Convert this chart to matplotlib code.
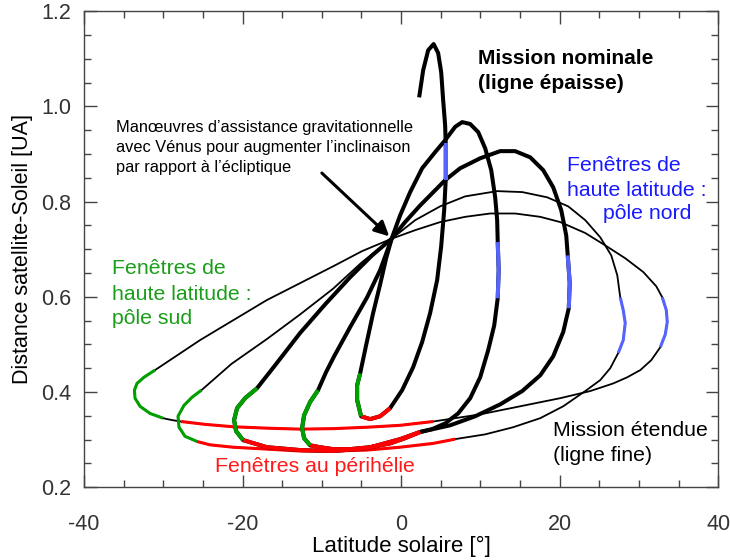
import matplotlib
matplotlib.use("Agg")
import matplotlib.pyplot as plt
from matplotlib.ticker import MultipleLocator

plt.rcParams['font.family'] = ['Liberation Sans', 'DejaVu Sans']
plt.rcParams['axes.unicode_minus'] = False

# Venus fly-by point (solar latitude [deg], distance [AU])
venus = (-1.2, 0.722)

# Successive orbits: solar latitude [deg] and distance to the Sun [AU]
orb1_lat = [2.27, 2.78, 3.41, 4.10, 4.67, 5.05, 5.30, 5.55, 5.62, 5.62, 5.62, 5.43, 5.05, 4.54,
            3.66, 2.65, 1.51, 0.13, -1.39, -2.65, -3.91, -5.05, -5.55, -5.55, -5.17, -4.42,
            -3.53, -2.65, -1.89, venus[0]]
orb1_r = [1.019, 1.076, 1.118, 1.131, 1.112, 1.072, 1.013, 0.960, 0.923, 0.883, 0.845, 0.782,
          0.706, 0.635, 0.566, 0.505, 0.452, 0.404, 0.366, 0.349, 0.343, 0.349, 0.383, 0.414,
          0.439, 0.498, 0.566, 0.626, 0.681, venus[1]]
orb1_win = {'nord': (8, 10), 'perihelie': (18, 21), 'sud': (21, 24)}

orb2_lat = [venus[0], -0.13, 1.14, 2.65, 4.29, 5.55, 6.81, 7.70, 8.71, 9.72, 10.60, 11.36,
            11.86, 12.11, 12.18, 12.30, 12.18, 11.74, 10.98, 9.97, 8.71, 7.19, 5.55, 3.91, 2.40,
            0.50, -1.39, -3.91, -6.44, -8.58, -10.22, -11.48, -12.24, -12.49, -12.24, -11.48,
            -10.47, -9.46, -8.45, -6.44, -4.29, -2.65, venus[0]]
orb2_r = [venus[1], 0.771, 0.820, 0.870, 0.904, 0.929, 0.957, 0.967, 0.963, 0.946, 0.912, 0.866,
          0.809, 0.761, 0.715, 0.656, 0.597, 0.540, 0.488, 0.431, 0.387, 0.355, 0.334, 0.322,
          0.316, 0.303, 0.292, 0.284, 0.280, 0.280, 0.284, 0.288, 0.303, 0.324, 0.351, 0.379,
          0.404, 0.442, 0.475, 0.536, 0.599, 0.656, venus[1]]
orb2_win = {'nord': (14, 16), 'perihelie': (24, 31), 'sud': (31, 36)}

orb3_lat = [venus[0], 0.50, 2.40, 5.55, 7.44, 9.97, 12.49, 14.38, 16.28, 17.92, 19.18, 20.19,
            20.82, 21.01, 21.26, 21.14, 20.44, 19.18, 17.54, 15.27, 12.49, 9.34, 6.18, 2.40,
            -0.13, -4.29, -8.58, -12.74, -16.91, -19.94, -20.82, -21.07, -20.69, -19.68, -18.17,
            -15.90, -12.74, -9.59, -6.44, -3.66, venus[0]]
orb3_r = [venus[1], 0.757, 0.792, 0.845, 0.870, 0.891, 0.906, 0.906, 0.893, 0.866, 0.830, 0.782,
          0.729, 0.687, 0.629, 0.576, 0.526, 0.475, 0.435, 0.402, 0.374, 0.349, 0.330, 0.316,
          0.301, 0.282, 0.276, 0.278, 0.284, 0.299, 0.318, 0.341, 0.366, 0.387, 0.408, 0.456,
          0.524, 0.584, 0.641, 0.687, venus[1]]
orb3_win = {'nord': (13, 15), 'perihelie': (23, 29), 'sud': (29, 34)}

orb4_lat = [venus[0], 1.77, 4.92, 8.08, 12.11, 15.27, 18.42, 21.07, 23.22, 25.11, 26.50, 27.26,
            27.63, 28.01, 28.26, 28.01, 27.38, 26.37, 25.11, 23.22, 20.44, 17.54, 14.13, 10.60,
            6.81, 4.04, -0.13, -4.29, -8.58, -12.74, -16.91, -21.20, -24.10, -25.74, -27.26,
            -28.01, -28.14, -27.38, -26.37, -25.17, -21.40, -16.95, -12.74, -8.58, -4.92,
            venus[0]]
orb4_r = [venus[1], 0.761, 0.790, 0.811, 0.822, 0.820, 0.809, 0.790, 0.761, 0.725, 0.687, 0.645,
          0.599, 0.572, 0.545, 0.509, 0.482, 0.450, 0.425, 0.402, 0.370, 0.345, 0.326, 0.311,
          0.301, 0.292, 0.284, 0.278, 0.276, 0.276, 0.280, 0.284, 0.289, 0.296, 0.307, 0.326,
          0.349, 0.372, 0.389, 0.404, 0.459, 0.511, 0.563, 0.617, 0.673, venus[1]]
orb4_win = {'nord': (12, 16), 'perihelie': (24, 33), 'sud': (33, 39)}

orb5_lat = [venus[0], 1.77, 4.92, 8.08, 11.23, 14.38, 17.54, 20.06, 23.22, 25.74, 28.26, 30.54,
            32.18, 32.93, 33.44, 33.56, 33.31, 32.68, 31.55, 30.16, 28.52, 26.75, 23.85, 20.06,
            15.02, 9.97, 4.04, -0.13, -4.29, -8.58, -12.74, -16.91, -21.20, -24.73, -27.76,
            -28.90, -30.03, -31.67, -32.93, -33.56, -33.63, -33.31, -32.43, -31.04, -25.36,
            -16.95, -8.58, -4.92, venus[0]]
orb5_r = [venus[1], 0.740, 0.757, 0.768, 0.775, 0.775, 0.768, 0.757, 0.734, 0.708, 0.681, 0.652,
          0.622, 0.599, 0.572, 0.547, 0.521, 0.494, 0.467, 0.446, 0.431, 0.418, 0.402, 0.387,
          0.370, 0.353, 0.338, 0.330, 0.326, 0.323, 0.322, 0.324, 0.327, 0.332, 0.338, 0.341,
          0.345, 0.355, 0.370, 0.387, 0.404, 0.418, 0.431, 0.446, 0.509, 0.593, 0.664, 0.696,
          venus[1]]
orb5_win = {'nord': (13, 17), 'perihelie': (26, 34), 'sud': (36, 43)}

# nominal mission orbits are drawn thick, extended mission orbits thin
nominal = [(orb1_lat, orb1_r, orb1_win), (orb2_lat, orb2_r, orb2_win),
           (orb3_lat, orb3_r, orb3_win)]
extended = [(orb4_lat, orb4_r, orb4_win), (orb5_lat, orb5_r, orb5_win)]

win_colors = {'nord': '#5564ff', 'perihelie': '#ff0000', 'sud': '#00a000'}

fig = plt.figure(figsize=(7.3, 5.6), dpi=100)
ax = fig.add_axes([0.115, 0.130, 0.869, 0.850])


def draw_orbit(lat, r, win, lw, wlw, z):
    ax.plot(lat, r, color='black', lw=lw, solid_capstyle='butt',
            solid_joinstyle='round', zorder=z)
    for key, (i0, i1) in win.items():
        ax.plot(lat[i0:i1 + 1], r[i0:i1 + 1], color=win_colors[key], lw=wlw,
                solid_capstyle='butt', solid_joinstyle='round', zorder=z + 0.5)


for lat, r, win in extended:
    draw_orbit(lat, r, win, 1.3, 2.2, 2)
for lat, r, win in nominal:
    draw_orbit(lat, r, win, 2.9, 2.9, 3)

ax.set_xlim(-40, 40)
ax.set_ylim(0.2, 1.2)
ax.xaxis.set_major_locator(MultipleLocator(20))
ax.xaxis.set_minor_locator(MultipleLocator(5))
ax.yaxis.set_minor_locator(MultipleLocator(0.05))
ax.set_yticks([0.2, 0.4, 0.6, 0.8, 1.0, 1.2])
ax.set_yticklabels(['0.2', '0.4', '0.6', '0.8', '1.0', '1.2'])
ax.tick_params(which='both', direction='in', top=True, right=True, color='#444444',
               labelcolor='#333333', labelsize=15.5)
ax.tick_params(which='major', length=9, width=1)
ax.tick_params(which='minor', length=5, width=1)
ax.tick_params(axis='x', pad=19)
ax.tick_params(axis='y', pad=9)
for s in ax.spines.values():
    s.set_color('#444444')
    s.set_linewidth(1)

ax.set_xlabel('Latitude solaire [°]', fontsize=16, labelpad=1)
ax.set_ylabel('Distance satellite-Soleil [UA]', fontsize=15.5, labelpad=6)

# Annotations
notes = ["Manœuvres d’assistance gravitationnelle",
         "avec Vénus pour augmenter l’inclinaison",
         "par rapport à l’écliptique"]
for k, line in enumerate(notes):
    ax.text(-36.0, 0.956 - 0.042 * k, line, fontsize=11.8, va='center', ha='left')
ax.annotate('', xy=(-1.5, 0.727), xytext=(-10.0, 0.860),
            arrowprops=dict(arrowstyle='-|>', lw=2.2, color='black', mutation_scale=22,
                            shrinkA=0, shrinkB=0), zorder=6)

ax.text(9.7, 1.101, 'Mission nominale', fontsize=15, fontweight='bold', va='center')
ax.text(9.7, 1.049, '(ligne épaisse)', fontsize=15, fontweight='bold', va='center')

blue_txt = '#1a1aff'
ax.text(20.95, 0.876, 'Fenêtres de', fontsize=15.3, color=blue_txt, va='center')
ax.text(20.95, 0.824, 'haute latitude :', fontsize=15.3, color=blue_txt, va='center')
ax.text(25.5, 0.774, 'pôle nord', fontsize=15.3, color=blue_txt, va='center')

green_txt = '#1a9e1a'
ax.text(-36.5, 0.660, 'Fenêtres de', fontsize=15.3, color=green_txt, va='center')
ax.text(-36.5, 0.605, 'haute latitude :', fontsize=15.3, color=green_txt, va='center')
ax.text(-36.5, 0.555, 'pôle sud', fontsize=15.3, color=green_txt, va='center')

ax.text(-23.5, 0.244, 'Fenêtres au périhélie', fontsize=15.3, color='#ff1a1a', va='center')

ax.text(19.2, 0.320, 'Mission étendue', fontsize=15.3, va='center')
ax.text(19.2, 0.267, '(ligne fine)', fontsize=15.3, va='center')

fig.savefig('out.png', dpi=100)
